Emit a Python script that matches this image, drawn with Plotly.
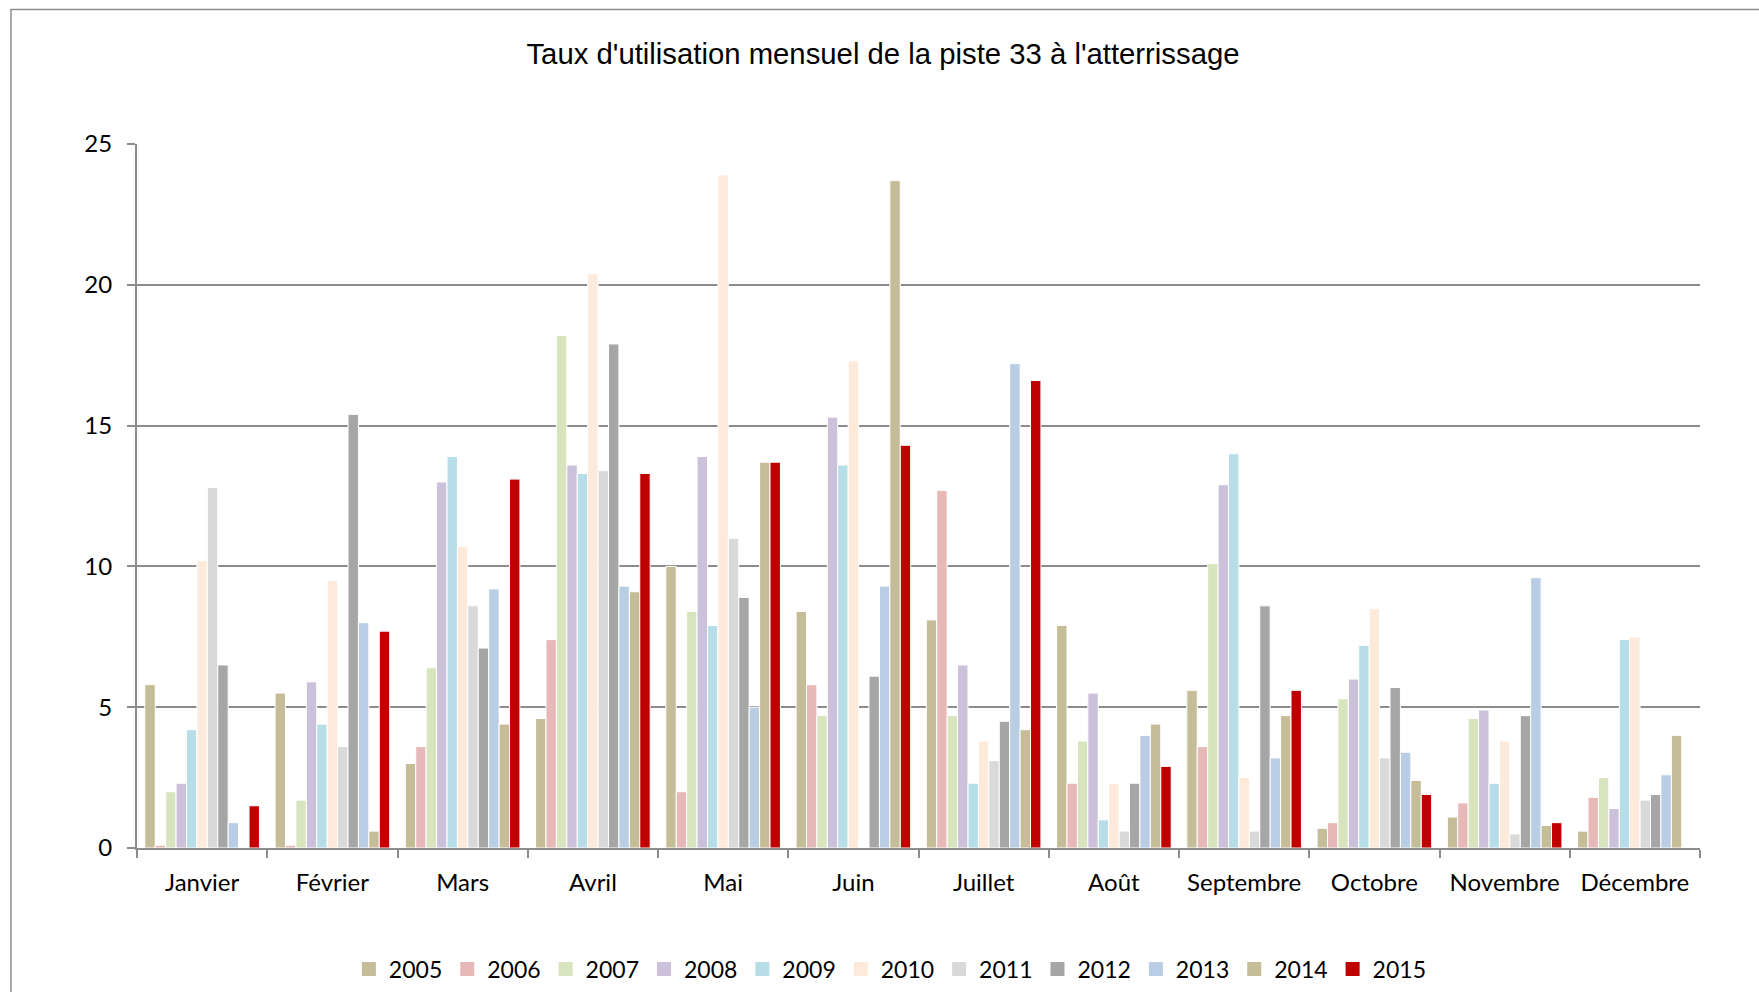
import plotly.graph_objects as go

months = ["Janvier", "Février", "Mars", "Avril", "Mai", "Juin", "Juillet",
          "Août", "Septembre", "Octobre", "Novembre", "Décembre"]

years = ["2005", "2006", "2007", "2008", "2009", "2010",
         "2011", "2012", "2013", "2014", "2015"]

# monthly landing usage rate (%) of runway 33, one list per year
v2005 = [5.8, 5.5, 3.0, 4.6, 10.0, 8.4, 8.1, 7.9, 5.6, 0.7, 1.1, 0.6]
v2006 = [0.1, 0.1, 3.6, 7.4, 2.0, 5.8, 12.7, 2.3, 3.6, 0.9, 1.6, 1.8]
v2007 = [2.0, 1.7, 6.4, 18.2, 8.4, 4.7, 4.7, 3.8, 10.1, 5.3, 4.6, 2.5]
v2008 = [2.3, 5.9, 13.0, 13.6, 13.9, 15.3, 6.5, 5.5, 12.9, 6.0, 4.9, 1.4]
v2009 = [4.2, 4.4, 13.9, 13.3, 7.9, 13.6, 2.3, 1.0, 14.0, 7.2, 2.3, 7.4]
v2010 = [10.2, 9.5, 10.7, 20.4, 23.9, 17.3, 3.8, 2.3, 2.5, 8.5, 3.8, 7.5]
v2011 = [12.8, 3.6, 8.6, 13.4, 11.0, 0.0, 3.1, 0.6, 0.6, 3.2, 0.5, 1.7]
v2012 = [6.5, 15.4, 7.1, 17.9, 8.9, 6.1, 4.5, 2.3, 8.6, 5.7, 4.7, 1.9]
v2013 = [0.9, 8.0, 9.2, 9.3, 5.0, 9.3, 17.2, 4.0, 3.2, 3.4, 9.6, 2.6]
v2014 = [0.0, 0.6, 4.4, 9.1, 13.7, 23.7, 4.2, 4.4, 4.7, 2.4, 0.8, 4.0]
v2015 = [1.5, 7.7, 13.1, 13.3, 13.7, 14.3, 16.6, 2.9, 5.6, 1.9, 0.9, None]

series = [v2005, v2006, v2007, v2008, v2009, v2010,
          v2011, v2012, v2013, v2014, v2015]

colors = ["#C4BD97", "#E6B9B8", "#D7E4BD", "#CCC1DA", "#B7DEE8", "#FDEADA",
          "#D9D9D9", "#A6A6A6", "#B9CDE5", "#C4BD97", "#C00000"]

GRID = "#8C8C8C"
LABEL_FONT = "Lato, 'Open Sans', sans-serif"

fig = go.Figure()
for year, vals, col in zip(years, series, colors):
    fig.add_trace(go.Bar(
        x=months, y=vals, name=year, legendgroup=year, showlegend=False,
        marker_color=col, marker_line_color="white", marker_line_width=1,
    ))
# legend-only entries so the swatches can be the size of the original ones
for year, col in zip(years, colors):
    fig.add_trace(go.Scatter(
        x=[None], y=[None], name=year, legendgroup=year, mode="markers",
        marker={"symbol": "square", "size": 14, "color": col},
    ))

fig.update_layout(
    width=1759, height=992,
    barmode="group", bargap=0.12, bargroupgap=0,
    paper_bgcolor="white", plot_bgcolor="white",
    margin={"l": 137, "r": 59, "t": 143.5, "b": 144, "autoexpand": False},
    title={
        "text": "Taux d'utilisation mensuel de la piste 33 à l'atterrissage",
        "x": 0.502, "xanchor": "center",
        "y": 1 - 54 / 992, "yanchor": "middle", "yref": "container",
        "font": {"family": "'Liberation Sans', Arial, sans-serif", "size": 29.3, "color": "black"},
    },
    legend={
        "orientation": "h", "x": 0.482, "xanchor": "center",
        "y": -0.172, "yanchor": "middle",
        "font": {"family": LABEL_FONT, "size": 23, "color": "black"},
        "itemclick": False, "itemdoubleclick": False,
    },
    showlegend=True,
    shapes=[{
        "type": "rect", "xref": "paper", "yref": "paper",
        "x0": -0.0806, "x1": 1.2, "y0": -0.5, "y1": 1.191,
        "line": {"color": GRID, "width": 1.5}, "layer": "below",
    }],
)

fig.update_xaxes(
    showline=True, linecolor=GRID, linewidth=2,
    ticks="outside", tickson="boundaries", ticklen=8, tickwidth=2, tickcolor=GRID,
    ticklabelstandoff=12,
    tickfont={"family": LABEL_FONT, "size": 24, "color": "black"},
    showgrid=False,
)
fig.update_yaxes(
    range=[0, 25], dtick=5,
    showline=True, linecolor=GRID, linewidth=2,
    ticks="outside", ticklen=8, tickwidth=2, tickcolor=GRID,
    ticklabelstandoff=10,
    showgrid=True, gridcolor=GRID, gridwidth=2, zeroline=False,
    tickfont={"family": LABEL_FONT, "size": 24, "color": "black"},
)

fig.write_html(
    "out.html",
    config={"displayModeBar": False},
    post_script="document.body.style.margin = '0';",
)
